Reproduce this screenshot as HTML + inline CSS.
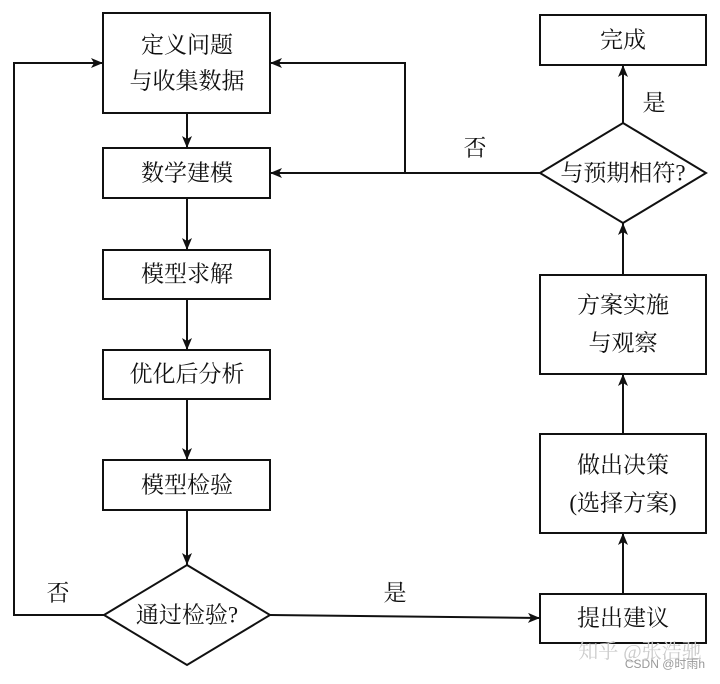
<!DOCTYPE html>
<html><head><meta charset="utf-8"><style>
html,body{margin:0;padding:0;background:#fff;}
svg text{font-family:"Liberation Serif","Noto Serif CJK SC",serif;font-size:23px;fill:#111;text-anchor:middle;dominant-baseline:central;}
</style></head><body>
<svg width="720" height="679" viewBox="0 0 720 679" xmlns="http://www.w3.org/2000/svg">
<defs><marker id="a" viewBox="0 0 12 10" refX="12" refY="5" markerWidth="12" markerHeight="10" markerUnits="userSpaceOnUse" orient="auto"><path d="M0,0 L12,5 L0,10 L3,5 Z" fill="#111"/></marker></defs>
<g fill="none" stroke="#111" stroke-width="2">
<rect x="103" y="13" width="167" height="100"/>
<rect x="103" y="148" width="167" height="50"/>
<rect x="103" y="250" width="167" height="49"/>
<rect x="103" y="350" width="167" height="49"/>
<rect x="103" y="460" width="167" height="50"/>
<polygon points="187,565 270,615 187,665 104,615"/>
<rect x="540" y="15" width="166" height="50"/>
<polygon points="623,123 706,173 623,223 540,173"/>
<rect x="540" y="275" width="166" height="99"/>
<rect x="540" y="434" width="166" height="99"/>
<rect x="540" y="594" width="166" height="49"/>
<path d="M187,113 V148" marker-end="url(#a)"/>
<path d="M187,198 V250" marker-end="url(#a)"/>
<path d="M187,299 V350" marker-end="url(#a)"/>
<path d="M187,399 V460" marker-end="url(#a)"/>
<path d="M187,510 V565" marker-end="url(#a)"/>
<path d="M104,615 H14 V63 H103" marker-end="url(#a)"/>
<path d="M270,615 L540,618" marker-end="url(#a)"/>
<path d="M623,594 V533" marker-end="url(#a)"/>
<path d="M623,434 V374" marker-end="url(#a)"/>
<path d="M623,275 V223" marker-end="url(#a)"/>
<path d="M623,123 V65" marker-end="url(#a)"/>
<path d="M540,173 H270" marker-end="url(#a)"/>
<path d="M405,173 V63 H270" marker-end="url(#a)"/>
</g>
<text x="187" y="45">定义问题</text>
<text x="187" y="81">与收集数据</text>
<text x="187" y="173">数学建模</text>
<text x="187" y="274">模型求解</text>
<text x="187" y="374">优化后分析</text>
<text x="187" y="485">模型检验</text>
<text x="187" y="615">通过检验?</text>
<text x="623" y="40">完成</text>
<text x="623" y="173">与预期相符?</text>
<text x="623" y="305">方案实施</text>
<text x="623" y="343">与观察</text>
<text x="623" y="465">做出决策</text>
<text x="623" y="503">(选择方案)</text>
<text x="623" y="618">提出建议</text>
<text x="475" y="148">否</text>
<text x="654" y="103">是</text>
<text x="58" y="593">否</text>
<text x="395" y="593">是</text>
<text x="640" y="652" style="font-size:20px;fill:#ccc">知乎 @张浩驰</text>
<text x="665" y="664" style="font-size:12px;fill:#999;font-family:'Liberation Sans','Noto Sans CJK SC',sans-serif">CSDN @时雨h</text>
</svg>
</body></html>
